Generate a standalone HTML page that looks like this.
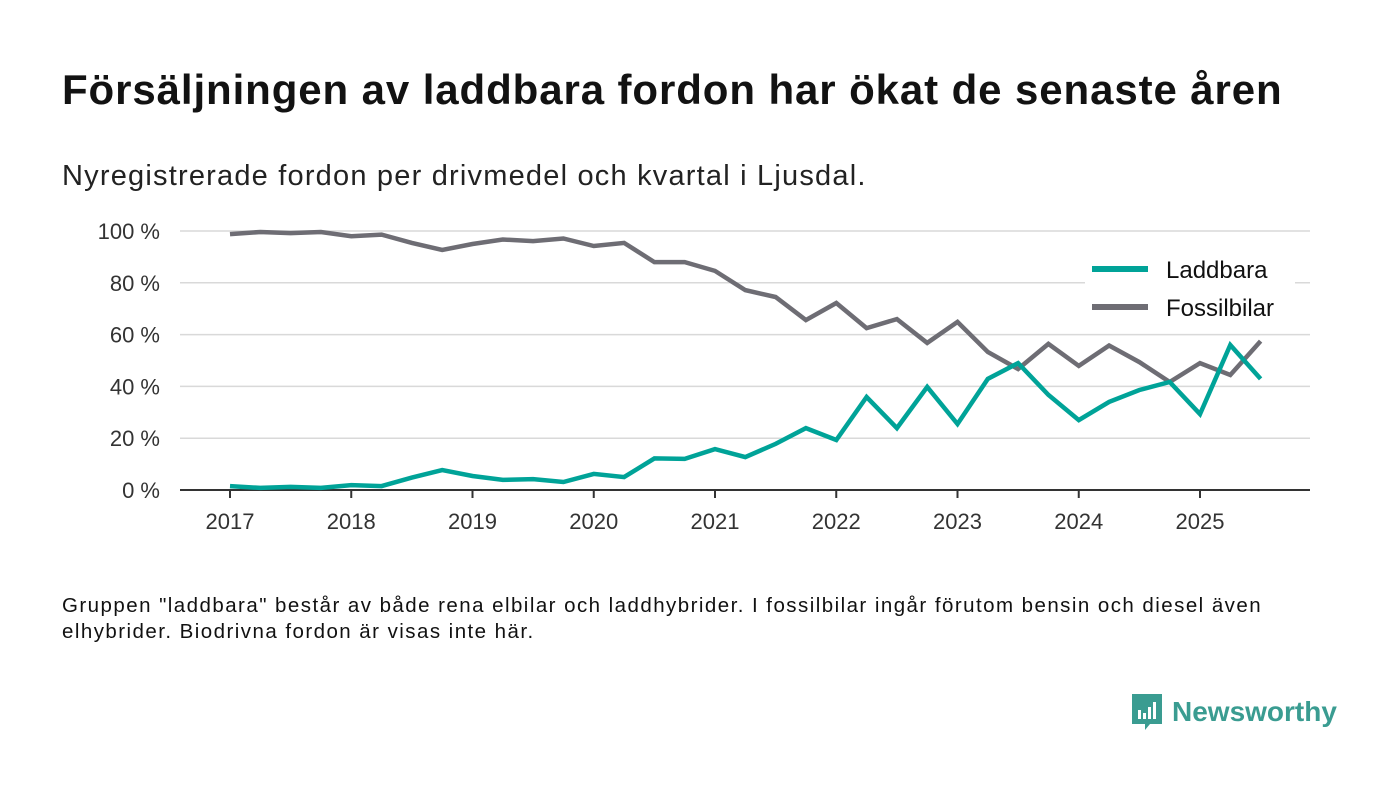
<!DOCTYPE html>
<html><head><meta charset="utf-8">
<style>
body{margin:0;background:#fff;width:1400px;height:793px;overflow:hidden;font-family:"Liberation Sans",sans-serif;color:#111}
#title{position:absolute;left:62px;top:66px;font-size:42px;letter-spacing:0.9px;font-weight:bold;color:#121212;white-space:nowrap}
#sub{position:absolute;left:62px;top:160px;font-size:29px;letter-spacing:1.2px;color:#222;white-space:nowrap}
#note{position:absolute;left:62px;top:593px;font-size:20.5px;letter-spacing:1.45px;line-height:26px;color:#111;width:1300px;white-space:nowrap}
#logo{position:absolute;left:1130px;top:692px;display:flex;align-items:center}
#logo span{font-size:28px;font-weight:bold;color:#3a9c91;margin-left:8px}
svg{position:absolute;left:0;top:0}
</style></head><body>
<div id="title">Försäljningen av laddbara fordon har ökat de senaste åren</div>
<div id="sub">Nyregistrerade fordon per drivmedel och kvartal i Ljusdal.</div>
<svg id="chart" width="1400" height="793"></svg>
<div id="note">Gruppen "laddbara" består av både rena elbilar och laddhybrider. I fossilbilar ingår förutom bensin och diesel även<br>elhybrider. Biodrivna fordon är visas inte här.</div>
<div id="logo">
<svg width="34" height="40" viewBox="0 0 34 40" style="position:static"><path d="M2 2h30v30H20l-5 6v-6H2z" fill="#3a9c91"/><rect x="8" y="18" width="3" height="9" fill="#fff"/><rect x="13" y="21" width="3" height="6" fill="#fff"/><rect x="18" y="15" width="3" height="12" fill="#fff"/><rect x="23" y="10" width="3" height="17" fill="#fff"/></svg>
<span>Newsworthy</span></div>
<script>
const years=[2017,2018,2019,2020,2021,2022,2023,2024,2025];
const yTicks=[0,20,40,60,80,100];
const laddbara=[1.5,0.8,1.2,0.8,1.9,1.5,4.8,7.7,5.4,3.9,4.2,3.1,6.2,5,12.2,12,15.8,12.7,17.8,23.9,19.3,35.9,23.9,39.8,25.5,42.9,49,36.7,27,34,38.6,41.7,29.3,56,42.9];
const fossil=[98.8,99.6,99.2,99.6,98,98.6,95.4,92.7,95,96.7,96.1,97.1,94.2,95.4,88,88,84.6,77.2,74.5,65.6,72.2,62.5,66,56.8,64.9,53.3,46.7,56.4,47.9,55.8,49.4,41.7,49,44.4,57.5];
const NS="http://www.w3.org/2000/svg";
const svg=document.getElementById('chart');
const x0=180,x1=1310,y0=490,y1=231;
const xs=t=>230+(t-2017)*121.25;
const ys=v=>y0-(v/100)*(y0-y1);
function el(tag,attrs){const e=document.createElementNS(NS,tag);for(const k in attrs)e.setAttribute(k,attrs[k]);svg.appendChild(e);return e;}
yTicks.forEach(v=>{
  if(v>0){const g=el('line',{x1:x0,x2:x1,y1:ys(v),y2:ys(v),stroke:'#d9d9d9','stroke-width':1.5});
  
  }
  const t=el('text',{x:160,y:ys(v)+8,'text-anchor':'end','font-size':22,fill:'#333','font-family':'Liberation Sans, sans-serif'});
  t.textContent=v+' %';
  
  
});
const ax=el('line',{x1:x0,x2:x1,y1:y0,y2:y0,stroke:'#333','stroke-width':2});


years.forEach(yr=>{
  const tk=el('line',{x1:xs(yr),x2:xs(yr),y1:y0,y2:y0+8,stroke:'#333','stroke-width':2});
  
  
  const t=el('text',{x:xs(yr),y:529,'text-anchor':'middle','font-size':22,fill:'#333','font-family':'Liberation Sans, sans-serif'});
  t.textContent=yr;
  
  
});
function line(data,color,name){
  const d=data.map((v,i)=>(i?'L':'M')+xs(2017+i/4).toFixed(1)+' '+ys(v).toFixed(1)).join(' ');
  const p=el('path',{d:d,fill:'none',stroke:color,'stroke-width':4.5,'stroke-linejoin':'miter'});
  
  
}
line(fossil,'#6e6d74','fossilbilar-line');
line(laddbara,'#00a398','laddbara-line');
const lb=el('rect',{x:1085,y:250,width:210,height:80,fill:'#fff'});


[['Laddbara','#00a398',269],['Fossilbilar','#6e6d74',307]].forEach(([n,c,y])=>{
  const l=el('line',{x1:1092,x2:1148,y1:y,y2:y,stroke:c,'stroke-width':6});
  
  
  const t=el('text',{x:1166,y:y+9,'font-size':24,fill:'#111','font-family':'Liberation Sans, sans-serif'});
  t.textContent=n;
  
  
});
</script>
</body></html>
